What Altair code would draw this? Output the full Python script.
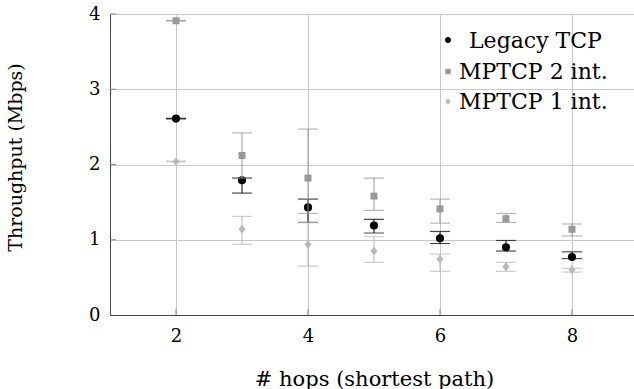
import altair as alt
import pandas as pd

hops = [2, 3, 4, 5, 6, 7, 8]

legacy = [2.61, 1.79, 1.43, 1.19, 1.02, 0.90, 0.77]
legacy_lo = [2.605, 1.62, 1.23, 1.09, 0.95, 0.85, 0.75]
legacy_hi = [2.615, 1.82, 1.54, 1.27, 1.11, 0.99, 0.84]

mp2 = [3.91, 2.12, 1.82, 1.58, 1.41, 1.28, 1.14]
mp2_lo = [3.905, 1.82, 1.35, 1.39, 1.22, 1.23, 1.05]
mp2_hi = [3.915, 2.42, 2.47, 1.82, 1.54, 1.35, 1.21]

mp1 = [2.04, 1.14, 0.94, 0.85, 0.74, 0.64, 0.60]
mp1_lo = [2.035, 0.94, 0.65, 0.70, 0.58, 0.58, 0.57]
mp1_hi = [2.045, 1.31, 1.23, 1.04, 0.81, 0.70, 0.62]

series_names = ["Legacy TCP", "MPTCP 2 int.", "MPTCP 1 int."]
x_ticks = [2, 4, 6, 8]
y_ticks = [0, 1, 2, 3, 4]

FONT = "DejaVu Serif"
DIAMOND = "M0,-1.2L1,0L0,1.2L-1,0Z"

xs = alt.Scale(domain=[1, 8.94], nice=False, zero=False)
ys = alt.Scale(domain=[0, 4], nice=False, zero=True)


def series_layers(vals, lo, hi, color, shape, size):
    df = pd.DataFrame({"h": hops, "v": vals, "lo": lo, "hi": hi})
    base = alt.Chart(df)
    bar = base.mark_rule(color=color, strokeWidth=1).encode(
        x=alt.X("h:Q", scale=xs), y=alt.Y("lo:Q", scale=ys), y2="hi:Q")
    cap_lo = base.mark_tick(color=color, orient="horizontal", size=20, thickness=1.2).encode(
        x=alt.X("h:Q", scale=xs), y=alt.Y("lo:Q", scale=ys))
    cap_hi = base.mark_tick(color=color, orient="horizontal", size=20, thickness=1.2).encode(
        x=alt.X("h:Q", scale=xs), y=alt.Y("hi:Q", scale=ys))
    pts = base.mark_point(filled=True, opacity=1, color=color, shape=shape, size=size).encode(
        x=alt.X("h:Q", scale=xs), y=alt.Y("v:Q", scale=ys))
    return [bar, cap_lo, cap_hi, pts]


# axes + grid
axis_df = pd.DataFrame({"h": [2.0], "v": [0.0]})
frame = alt.Chart(axis_df).mark_point(opacity=0).encode(
    x=alt.X("h:Q", scale=xs,
            axis=alt.Axis(values=x_ticks, format="d", grid=True, gridColor="#c8c8c8", gridWidth=1,
                          domainColor="#444", domainWidth=1, ticks=False, tickSize=0,
                          labelFont=FONT, labelFontSize=18, labelColor="#000",
                          labelBaseline="alphabetic", labelPadding=26,
                          title="# hops (shortest path)", titleFont=FONT, titleFontSize=21,
                          titleFontWeight="normal", titleColor="#000",
                          titleX=264, titleY=70, titleBaseline="alphabetic")),
    y=alt.Y("v:Q", scale=ys,
            axis=alt.Axis(values=y_ticks, format="d", grid=True, gridColor="#c8c8c8", gridWidth=1,
                          domainColor="#444", domainWidth=1, ticks=False, tickSize=0,
                          labelFont=FONT, labelFontSize=18, labelColor="#000",
                          labelPadding=10,
                          title="Throughput (Mbps)", titleFont=FONT, titleFontSize=19,
                          titleFontWeight="normal", titleColor="#000",
                          titleAngle=-90, titleX=-89, titleY=143,
                          titleBaseline="alphabetic")),
)

# inward tick marks
xt = alt.Chart(pd.DataFrame({"t": x_ticks})).mark_rule(color="#888", strokeWidth=1).encode(
    x=alt.X("t:Q", scale=xs), y=alt.value(301), y2=alt.value(295))
yt = alt.Chart(pd.DataFrame({"t": y_ticks[1:]})).mark_rule(color="#888", strokeWidth=1).encode(
    y=alt.Y("t:Q", scale=ys), x=alt.value(0), x2=alt.value(6))

layers = [frame, xt, yt]
layers += series_layers(legacy, legacy_lo, legacy_hi, "#000000", "circle", 66)
layers += series_layers(mp2, mp2_lo, mp2_hi, "#999999", "square", 49)
layers += series_layers(mp1, mp1_lo, mp1_hi, "#b8b8b8", DIAMOND, 50)

# legend (manual, inside plot)
leg_colors = ["#000000", "#999999", "#b8b8b8"]
leg_shapes = ["circle", "square", DIAMOND]
leg_sizes = [34, 30, 30]
leg_sym_x = 338
leg_sym_y = [26, 57.5, 87.5]
leg_txt_x = [359, 349, 349]
leg_txt_y = [33.5, 65, 95]
for i, name in enumerate(series_names):
    d = pd.DataFrame({"label": [name]})
    layers.append(alt.Chart(d).mark_point(filled=True, opacity=1, color=leg_colors[i],
                                          shape=leg_shapes[i], size=leg_sizes[i]).encode(
        x=alt.value(leg_sym_x), y=alt.value(leg_sym_y[i])))
    layers.append(alt.Chart(d).mark_text(font=FONT, fontSize=22, color="#000", align="left",
                                         baseline="alphabetic").encode(
        x=alt.value(leg_txt_x[i]), y=alt.value(leg_txt_y[i]), text="label:N"))

chart = alt.layer(*layers).properties(
    width=524, height=301,
    padding={"left": 110, "top": 14, "right": 0, "bottom": 74},
    autosize=alt.AutoSizeParams(type="none"),
).configure_view(stroke=None).configure(background="white")

chart.save("out.html", embed_options={"renderer": "svg", "actions": False})
